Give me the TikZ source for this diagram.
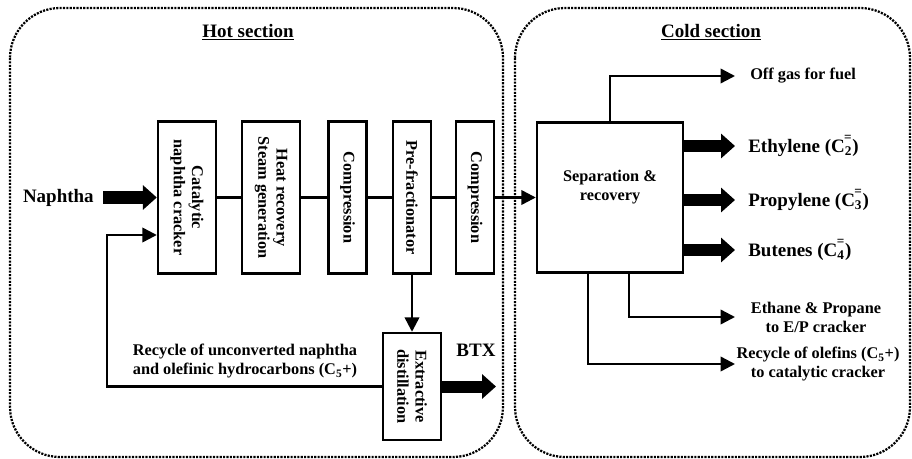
\documentclass[tikz,border=0pt]{standalone}
\usepackage{fontspec}
\setmainfont{Liberation Serif}
\usetikzlibrary{arrows.meta}
\newcommand{\Colef}[1]{C\textsubscript{#1}\kern-0.42em\raisebox{0.15em}{\textsuperscript{=}}}
\newcommand{\Cfive}{C\textsubscript{5}+}

\tikzset{
  zone/.style={line width=1.6pt, dash pattern=on 1.5pt off 0.9pt, rounded corners=1.25cm},
  unit/.style={draw, line width=1.7pt, rotate=-90, align=center, inner sep=0pt,
    minimum width=3.8cm, font=\fontsize{11.6}{13}\selectfont\bfseries},
  lab/.style={align=center, inner sep=0pt, font=\fontsize{11.6}{13.5}\selectfont\bfseries},
  biglab/.style={inner sep=0pt, font=\fontsize{13.5}{15}\selectfont\bfseries},
  link/.style={line width=1.7pt},
  flow/.style={line width=1.7pt, -{Triangle[length=0.36cm, width=0.36cm]}},
  bulk/.style={line width=0.3cm, -{Triangle[length=0.35cm, width=0.6cm]}},
}

\begin{document}
\begin{tikzpicture}[x=0.025cm, y=-0.025cm]
  \useasboundingbox (0,0) rectangle (912,459);
  \draw[zone] (10,8) rectangle (503,457);
  \draw[zone] (515,8) rectangle (910,457);
  \node[biglab] (hot) at (248,32) {\underline{Hot section}};
  \node[biglab] (cold) at (711,32) {\underline{Cold section}};

  \node[unit, minimum height=1.45cm] (cracker) at (187,197.5) {Catalytic\\naphtha cracker};
  \node[unit, minimum height=1.45cm] (heat) at (271,197.5) {Heat recovery\\Steam generation};
  \node[unit, minimum height=0.95cm] (comp1) at (347.5,197.5) {Compression};
  \node[unit, minimum height=0.95cm] (prefrac) at (412,197.5) {Pre-fractionator};
  \node[unit, minimum height=0.95cm] (comp2) at (475,197.5) {Compression};
  \node[unit, minimum width=2.675cm, minimum height=1.45cm] (distil) at (412,386.5) {Extractive\\distillation};
  \node[draw, line width=1.7pt, minimum width=3.65cm, minimum height=3.75cm] (sep) at (610,197.5) {};
  \node[lab] (septext) at ([yshift=0.25cm]sep.center) {Separation \&\\recovery};

  \node[biglab, anchor=east] (naphtha) at (94,197.5) {Naphtha};
  \draw[bulk] ([xshift=0.225cm]naphtha.east) -- (cracker.south);
  \draw[link] (cracker.north) -- (heat.south);
  \draw[link] (heat.north) -- (comp1.south);
  \draw[link] (comp1.north) -- (prefrac.south);
  \draw[link] (prefrac.north) -- (comp2.south);
  \draw[flow] (comp2.north) -- (sep.west);
  \draw[flow] (prefrac.east) -- (distil.west);

  \coordinate (back) at (107,235);
  \draw[flow] (distil.south) -| (back) -- (cracker.south |- back);
  \node[lab] (recyc) at (245,361) {Recycle of unconverted naphtha\\and olefinic hydrocarbons (\Cfive)};
  \node[biglab] (btx) at (476,350) {BTX};
  \coordinate (btxend) at (496,386.5);
  \draw[bulk] (distil.north) -- (btxend);

  \coordinate (outx) at (735,0);
  \node[lab, anchor=west] (offgas) at (750,76) {Off gas for fuel};
  \node[biglab, anchor=west] (ethyl) at (748,146) {Ethylene (\Colef{2})};
  \node[biglab, anchor=west] (propyl) at (748,200) {Propylene (\Colef{3})};
  \node[biglab, anchor=west] (buten) at (748,250) {Butenes (\Colef{4})};
  \node[lab] (ethane) at (816,317) {Ethane \& Propane\\to E/P cracker};
  \node[lab] (olef) at (818,364) {Recycle of olefins (\Cfive)\\to catalytic cracker};
  \draw[flow] (sep.north) |- (outx |- offgas);
  \draw[bulk] (sep.east |- ethyl) -- (outx |- ethyl);
  \draw[bulk] (sep.east |- propyl) -- (outx |- propyl);
  \draw[bulk] (sep.east |- buten) -- (outx |- buten);
  \draw[flow] ([xshift=0.475cm]sep.south) |- (outx |- ethane);
  \draw[flow] ([xshift=-0.55cm]sep.south) |- (outx |- olef);
\end{tikzpicture}
\end{document}
